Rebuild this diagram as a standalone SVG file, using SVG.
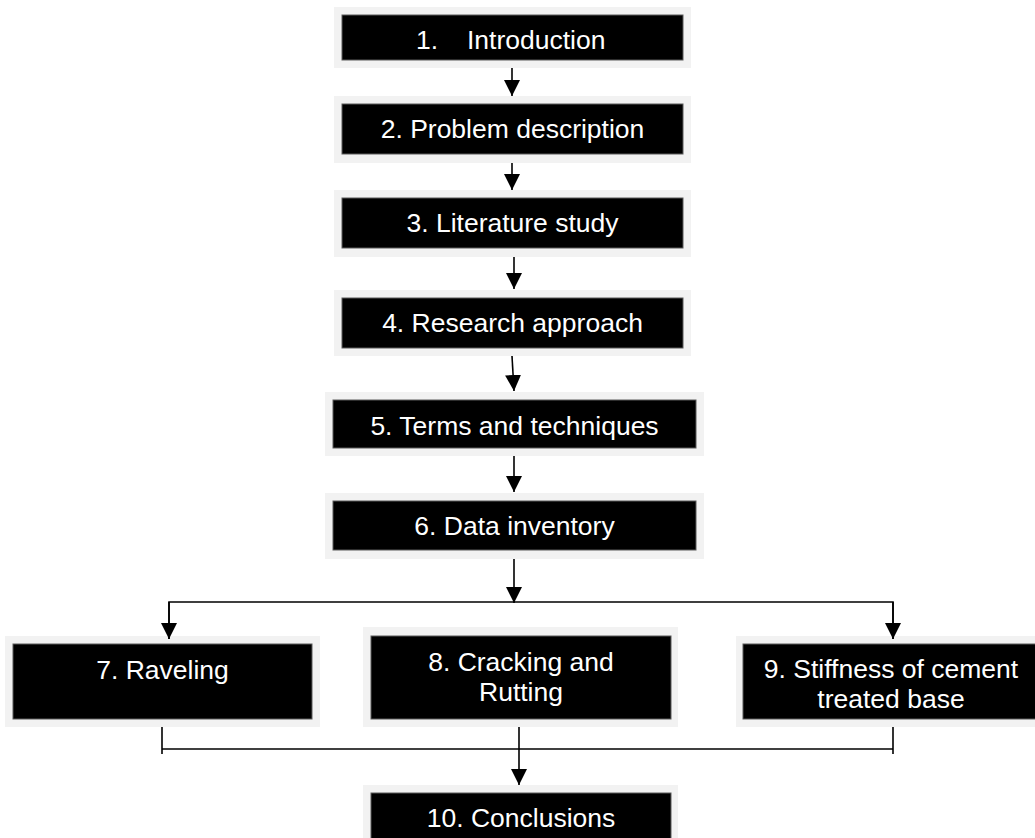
<svg xmlns="http://www.w3.org/2000/svg" width="1035" height="838" viewBox="0 0 1035 838">
  <style>
    .frame { fill: #f2f2f2; }
    .box { fill: #000000; stroke: #5a5a5a; stroke-width: 1; }
    .label { fill: #ffffff; font-family: "Liberation Sans", Arial, sans-serif; font-size: 26.5px; text-anchor: middle; }
    .wire { fill: none; stroke: #000000; stroke-width: 1.6; }
  </style>
  <defs>
    <marker id="head" markerUnits="userSpaceOnUse" markerWidth="16" markerHeight="16" refX="16" refY="8" orient="auto" viewBox="0 0 16 16">
      <path d="M0,0 L16,8 L0,16 Z" fill="#000000"/>
    </marker>
  </defs>
  <rect width="1035" height="838" fill="#ffffff"/>

  <g id="node-1">
    <rect class="frame" x="334" y="7" width="357" height="61"/>
    <rect class="box" x="342" y="15" width="341" height="45"/>
    <text class="label" y="49" style="text-anchor:start"><tspan x="416">1.</tspan><tspan x="467">Introduction</tspan></text>
  </g>

  <g id="node-2">
    <rect class="frame" x="334" y="96" width="357" height="67"/>
    <rect class="box" x="342" y="104" width="341" height="50"/>
    <text class="label" x="512.5" y="138">2. Problem description</text>
  </g>

  <g id="node-3">
    <rect class="frame" x="334" y="190" width="357" height="67"/>
    <rect class="box" x="342" y="198" width="341" height="50"/>
    <text class="label" x="512.5" y="232">3. Literature study</text>
  </g>

  <g id="node-4">
    <rect class="frame" x="334" y="290" width="357" height="66"/>
    <rect class="box" x="342" y="298" width="341" height="50"/>
    <text class="label" x="512.5" y="332">4. Research approach</text>
  </g>

  <g id="node-5">
    <rect class="frame" x="325" y="392" width="379" height="64"/>
    <rect class="box" x="333" y="400" width="363" height="48"/>
    <text class="label" x="514.5" y="435">5. Terms and techniques</text>
  </g>

  <g id="node-6">
    <rect class="frame" x="325" y="493" width="379" height="66"/>
    <rect class="box" x="333" y="501" width="363" height="49"/>
    <text class="label" x="514.5" y="535">6. Data inventory</text>
  </g>

  <g id="node-7">
    <rect class="frame" x="5" y="636" width="315" height="91"/>
    <rect class="box" x="13" y="644" width="299" height="75"/>
    <text class="label" x="162.5" y="679">7. Raveling</text>
  </g>

  <g id="node-8">
    <rect class="frame" x="363" y="627" width="315" height="100"/>
    <rect class="box" x="371" y="636" width="300" height="83"/>
    <text class="label" x="521"><tspan x="521" y="671">8. Cracking and</tspan><tspan x="521" y="701">Rutting</tspan></text>
  </g>

  <g id="node-9">
    <rect class="frame" x="736" y="636" width="305" height="91"/>
    <rect class="box" x="743" y="644" width="300" height="75"/>
    <text class="label" x="891"><tspan x="891" y="678">9. Stiffness of cement</tspan><tspan x="891" y="708">treated base</tspan></text>
  </g>

  <g id="node-10">
    <rect class="frame" x="363" y="785" width="315" height="70"/>
    <rect class="box" x="371" y="793" width="300" height="60"/>
    <text class="label" x="521" y="827">10. Conclusions</text>
  </g>

  <g id="connectors">
    <line class="wire" x1="512" y1="68" x2="512" y2="96" marker-end="url(#head)"/>
    <line class="wire" x1="512" y1="163" x2="512" y2="190" marker-end="url(#head)"/>
    <line class="wire" x1="514" y1="257" x2="514" y2="289" marker-end="url(#head)"/>
    <line class="wire" x1="512" y1="356" x2="514" y2="391" marker-end="url(#head)"/>
    <line class="wire" x1="514" y1="456" x2="514" y2="492" marker-end="url(#head)"/>
    <line class="wire" x1="514" y1="559" x2="514" y2="603" marker-end="url(#head)"/>
    <polyline class="wire" points="169,639 169,602 893,602 893,639"/>
    <line class="wire" x1="169" y1="602" x2="169" y2="639" marker-end="url(#head)"/>
    <line class="wire" x1="893" y1="602" x2="893" y2="639" marker-end="url(#head)"/>
    <line class="wire" x1="162" y1="727" x2="162" y2="754"/>
    <line class="wire" x1="893" y1="727" x2="893" y2="754"/>
    <line class="wire" x1="162" y1="749" x2="893" y2="749"/>
    <line class="wire" x1="519" y1="727" x2="519" y2="785" marker-end="url(#head)"/>
  </g>
</svg>
